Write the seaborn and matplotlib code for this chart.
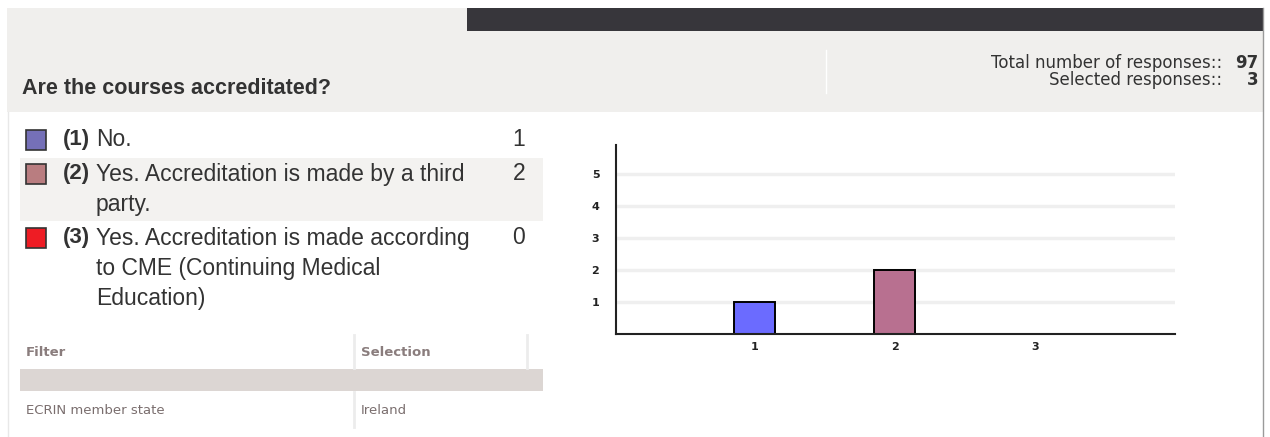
import matplotlib
matplotlib.use("Agg")
import matplotlib.pyplot as plt
from matplotlib.patches import Rectangle
import seaborn as sns
import pandas as pd

# data
question = "Are the courses accreditated?"
answer_ids = ["1", "2", "3"]
answer_texts = [
    ["No."],
    ["Yes. Accreditation is made by a third", "party."],
    ["Yes. Accreditation is made according", "to CME (Continuing Medical", "Education)"],
]
answer_counts = [1, 2, 0]
legend_colors = ["#7570b8", "#b97d80", "#ee1c24"]
bar_colors = ["#6b6bff", "#b87090", "#ee1c24"]
total_responses = 97
selected_responses = 3
filter_names = ["ECRIN member state"]
filter_values = ["Ireland"]

W, H = 1270, 437
fig = plt.figure(figsize=(W / 100, H / 100), dpi=100)
fig.patch.set_facecolor("white")

# page layer in pixel coordinates
bg = fig.add_axes([0, 0, 1, 1])
bg.set_xlim(0, W)
bg.set_ylim(H, 0)
bg.axis("off")

bg.add_patch(Rectangle((7, 8), 1256, 104, color="#f0efed", lw=0))
bg.add_patch(Rectangle((467, 8), 796, 23, color="#37363b", lw=0))
bg.plot([1263, 1263], [8, 437], color="#9a9a9a", lw=1)
bg.plot([8, 8], [112, 437], color="#e8e8e8", lw=1)
bg.plot([826, 826], [50, 93], color="white", lw=1)

bg.text(22, 89, question, fontsize=15.5, fontweight="bold", family="Liberation Sans",
        color="#333333", va="center")
bg.text(1222, 63, "Total number of responses::", fontsize=12, color="#333333",
        ha="right", va="center")
bg.text(1258, 63, str(total_responses), fontsize=12, fontweight="bold", color="#333333",
        ha="right", va="center")
bg.text(1222, 80, "Selected responses::", fontsize=12, color="#333333",
        ha="right", va="center")
bg.text(1258, 80, str(selected_responses), fontsize=12, fontweight="bold", color="#333333",
        ha="right", va="center")

# answer list
bg.add_patch(Rectangle((20, 158), 523, 63, color="#f3f2f0", lw=0))
row_lines = [[140], [174, 205], [238, 269, 299]]
for i, (aid, lines, cnt, col) in enumerate(zip(answer_ids, answer_texts, answer_counts, legend_colors)):
    y0 = row_lines[i][0]
    bg.add_patch(Rectangle((26, y0 - 10), 20, 20, facecolor=col, edgecolor="#333333", lw=1.2))
    bg.text(63, y0, f"({aid})", fontsize=16, fontweight="bold", family="Liberation Sans",
            color="#333333", va="center")
    for y, line in zip(row_lines[i], lines):
        bg.text(96, y, line, fontsize=16.5, family="Liberation Sans", color="#333333", va="center")
    bg.text(525, y0, str(cnt), fontsize=16.5, family="Liberation Sans", color="#333333",
            ha="right", va="center")

# filter table
bg.text(26, 353, "Filter", fontsize=9.5, fontweight="bold", color="#8a7d7d", va="center")
bg.text(361, 353, "Selection", fontsize=9.5, fontweight="bold", color="#8a7d7d", va="center")
bg.plot([354, 354], [335, 368], color="#ececec", lw=2)
bg.plot([527, 527], [335, 368], color="#ececec", lw=2)
bg.add_patch(Rectangle((20, 369), 523, 22, color="#dcd6d3", lw=0))
for j, (fn, fv) in enumerate(zip(filter_names, filter_values)):
    y = 411 + j * 30
    bg.text(26, y, fn, fontsize=9.5, color="#7a6e6e", va="center")
    bg.text(361, y, fv, fontsize=9.5, color="#7a6e6e", va="center")
    bg.plot([354, 354], [y - 19, y + 16], color="#ececec", lw=2)

# bar chart
left, right, top, bottom = 616, 1175, 145, 334
ax = fig.add_axes([left / W, 1 - bottom / H, (right - left) / W, (bottom - top) / H])
df = pd.DataFrame({"answer": answer_ids, "count": answer_counts})
sns.barplot(data=df, x="answer", y="count", hue="answer", palette=bar_colors, saturation=1,
            width=0.29, edgecolor="black", linewidth=1.4, legend=False, ax=ax)
ax.set_xlim(-0.99, 3.0)
ax.set_ylim(0, 5.9)
ax.set_yticks([1, 2, 3, 4, 5])
ax.yaxis.grid(True, color="#efefef", lw=2.5)
ax.set_axisbelow(True)
ax.set_xlabel("")
ax.set_ylabel("")
ax.tick_params(length=0, labelsize=8)
ax.tick_params(axis="y", pad=12)
ax.tick_params(axis="x", pad=6)
for lab in ax.get_xticklabels() + ax.get_yticklabels():
    lab.set_fontweight("bold")
    lab.set_color("#222222")
for s in ["top", "right"]:
    ax.spines[s].set_visible(False)
for s in ["left", "bottom"]:
    ax.spines[s].set_linewidth(1.5)
    ax.spines[s].set_color("#222222")
ax.set_facecolor("white")

fig.savefig("out.png", dpi=100)
